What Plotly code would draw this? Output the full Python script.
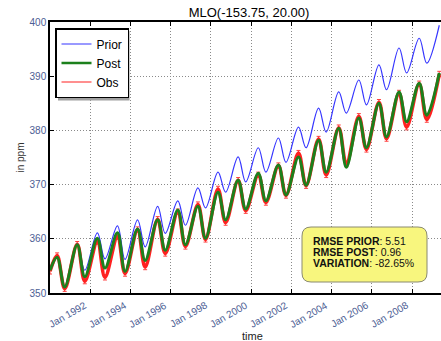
import plotly.graph_objects as go

# ---------------- data ----------------
years = list(range(1990, 2010))
start_date = "1990-01-01"
peak_day = "-05-10"
trough_day = "-09-25"

prior_start = 354.3
prior_peak = [356.5, 359.0, 361.1, 362.4, 363.5, 366.0, 367.0, 369.4, 372.3, 375.1,
              376.8, 378.6, 380.6, 384.1, 387.1, 389.3, 392.1, 395.2, 397.0, 399.4]
prior_trough = [351.2, 354.2, 356.3, 356.2, 358.5, 361.0, 362.5, 365.7, 368.6, 370.5,
                372.3, 374.1, 376.8, 379.7, 383.2, 384.7, 387.5, 390.6, 392.4]

post_start = 354.2
post_peak = [356.6, 358.9, 360.1, 361.1, 361.8, 363.5, 365.3, 366.0, 368.6, 370.8,
             372.1, 373.6, 375.1, 378.2, 380.4, 382.3, 385.0, 387.1, 388.7, 390.6]
post_trough = [351.1, 353.0, 354.6, 354.0, 356.0, 357.9, 358.9, 360.1, 363.5, 365.5,
               367.0, 368.1, 369.9, 372.3, 373.2, 376.8, 378.8, 381.6, 382.8]

obs_start = 354.0
obs_peak = [356.9, 359.0, 359.5, 360.4, 361.7, 363.6, 365.0, 366.3, 369.2, 370.8,
            371.8, 373.5, 375.8, 378.4, 380.5, 382.6, 385.2, 386.9, 388.6, 390.4]
obs_trough = [350.8, 352.2, 352.9, 353.6, 354.8, 357.3, 358.6, 359.9, 363.0, 365.2,
              366.7, 368.0, 369.8, 371.8, 373.8, 376.5, 378.5, 380.6, 382.0]
obs_err = 0.5

tick_dates = ["1992-01-01", "1994-01-01", "1996-01-01", "1998-01-01", "2000-01-01",
              "2002-01-01", "2004-01-01", "2006-01-01", "2008-01-01"]
tick_text = ["Jan 1992", "Jan 1994", "Jan 1996", "Jan 1998", "Jan 2000",
             "Jan 2002", "Jan 2004", "Jan 2006", "Jan 2008"]
y_ticks = [350, 360, 370, 380, 390, 400]

stats_labels = ["RMSE PRIOR", "RMSE POST", "VARIATION"]
stats_values = ["5.51", "0.96", "-82.65%"]

BLUE, GREEN, RED = "#3535ff", "#1c801c", "#ff2020"
FONT = "Liberation Sans, Arial"


def build(start, peaks, troughs):
    xs, ys = [start_date], [start]
    for i, yr in enumerate(years):
        xs.append(f"{yr}{peak_day}")
        ys.append(peaks[i])
        if i < len(troughs):
            xs.append(f"{yr}{trough_day}")
            ys.append(troughs[i])
    return xs, ys


px, py = build(prior_start, prior_peak, prior_trough)
gx, gy = build(post_start, post_peak, post_trough)
ox, oy = build(obs_start, obs_peak, obs_trough)

fig = go.Figure()
fig.add_trace(go.Scatter(
    x=ox, y=oy, name="Obs", mode="lines", showlegend=False,
    line=dict(color=RED, width=3.6, shape="spline", smoothing=1),
    error_y=dict(type="constant", value=obs_err, color="#ff4040", thickness=1, width=2),
))
fig.add_trace(go.Scatter(
    x=px, y=py, name="Prior", mode="lines", showlegend=False,
    line=dict(color=BLUE, width=1.2, shape="spline", smoothing=1),
))
fig.add_trace(go.Scatter(
    x=gx, y=gy, name="Post", mode="lines", showlegend=False,
    line=dict(color=GREEN, width=3, shape="spline", smoothing=1),
))
# legend entries (styled like the reference legend)
fig.add_trace(go.Scatter(x=[None], y=[None], name="Prior", mode="lines", legendrank=1,
                         line=dict(color=BLUE, width=1.2)))
fig.add_trace(go.Scatter(x=[None], y=[None], name="Post", mode="lines", legendrank=2,
                         line=dict(color=GREEN, width=2.5)))
fig.add_trace(go.Scatter(x=[None], y=[None], name="Obs", mode="lines", legendrank=3,
                         line=dict(color=RED, width=1.2),
                         error_y=dict(type="constant", value=obs_err, color=RED,
                                      thickness=1, width=3)))

# plot area in pixels: left 50, right 441, top 22, bottom 293
L, R, T, B = 50, 441, 22, 293
W, H = R - L, B - T


def pxx(v):
    return (v - L) / W


def pxy(v):
    return (B - v) / H


# legend drop shadow
fig.add_shape(type="rect", xref="paper", yref="paper",
              x0=pxx(58), x1=pxx(129.5), y0=pxy(100.5), y1=pxy(31),
              fillcolor="#a0a0a0", line=dict(width=0), layer="above")

# rounded yellow stats box
bx0, bx1, by0, by1 = pxx(302), pxx(427), pxy(282), pxy(227)
rx, ry = 9 / W, 9 / H
path = (f"M {bx0+rx},{by0} L {bx1-rx},{by0} Q {bx1},{by0} {bx1},{by0+ry} "
        f"L {bx1},{by1-ry} Q {bx1},{by1} {bx1-rx},{by1} "
        f"L {bx0+rx},{by1} Q {bx0},{by1} {bx0},{by1-ry} "
        f"L {bx0},{by0+ry} Q {bx0},{by0} {bx0+rx},{by0} Z")
fig.add_shape(type="path", xref="paper", yref="paper", path=path,
              fillcolor="#f8f67e", line=dict(color="#8a8a70", width=1), layer="above")

line_y = [241, 252, 263]
for lab, val, yy in zip(stats_labels, stats_values, line_y):
    fig.add_annotation(xref="paper", yref="paper", x=pxx(311), y=pxy(yy),
                       xanchor="left", yanchor="middle", showarrow=False,
                       text=f"<b>{lab}</b>: {val}",
                       font=dict(family=FONT, size=10.5, color="#111"))

tick_color = "#4d5e94"
# rotated x tick labels, top-right corner at the tick
for d, t in zip(tick_dates, tick_text):
    fig.add_annotation(xref="x", yref="paper", x=d, y=pxy(298),
                       xanchor="right", yanchor="top", textangle=-30,
                       showarrow=False, borderpad=0, text=t,
                       font=dict(family=FONT, size=10, color=tick_color))

fig.add_annotation(xref="paper", yref="paper", x=pxx(252), y=pxy(336),
                   xanchor="center", yanchor="middle", showarrow=False,
                   text="time", font=dict(family=FONT, size=11, color="#222"))

grid = dict(showgrid=True, gridcolor="#8a8a8a", griddash="1px,2px", gridwidth=1)
fig.update_layout(
    width=441, height=341,
    margin=dict(l=L, r=441 - R, t=T, b=341 - B),
    paper_bgcolor="white", plot_bgcolor="white",
    font=dict(family=FONT, color="black"),
    title=dict(text="MLO(-153.75, 20.00)", x=pxx(249), xref="paper", xanchor="center",
               y=1 - 12 / 341, yref="container", yanchor="middle",
               font=dict(size=13, color="black")),
    showlegend=True,
    legend=dict(x=pxx(55), y=pxy(28), xanchor="left", yanchor="top",
                bgcolor="white", bordercolor="black", borderwidth=1.5,
                font=dict(size=12, color="black"), tracegroupgap=0, itemwidth=30),
    xaxis=dict(type="date", range=["1990-01-01", "2009-06-10"],
               tickvals=tick_dates, showticklabels=False,
               ticks="inside", ticklen=4, tickcolor="black",
               showline=True, linecolor="black", linewidth=1.5, mirror="ticks",
               zeroline=False, automargin=False, **grid),
    yaxis=dict(range=[350, 400], tickvals=y_ticks,
               tickfont=dict(size=10, color=tick_color),
               ticks="inside", ticklen=4, tickcolor="black",
               showline=True, linecolor="black", linewidth=1.5, mirror=False,
               zeroline=False, automargin=False,
               title=dict(text="in ppm", font=dict(size=10, color="#333"), standoff=3),
               **grid),
)

fig.write_html("out.html")
